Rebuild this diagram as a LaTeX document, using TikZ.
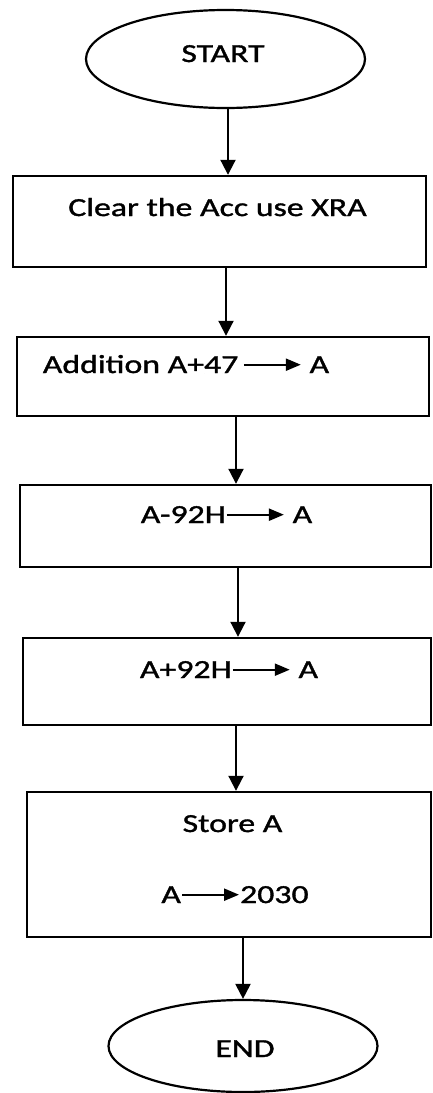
\documentclass[tikz,border=0pt]{standalone}
\usepackage{fontspec}
\setmainfont[FakeStretch=1.3,FakeBold=1.3]{Carlito}
\usetikzlibrary{arrows.meta,shapes.geometric}
\newcommand{\sarrow}{\tikz[x=1pt,y=1pt,baseline=-0.32em]\draw[line width=2.2pt,-{Triangle[length=15pt,width=12pt]}] (0,0) -- (57,0);}
\tikzset{
  box/.style={draw, line width=2.4pt, rectangle, inner sep=0pt},
  oval/.style={draw, line width=2.2pt, ellipse, inner sep=0pt},
  txt/.style={anchor=base, inner sep=0pt, font=\fontsize{26}{30}\selectfont},
  arr/.style={line width=2pt, -{Triangle[length=15pt,width=15pt]}}
}
\begin{document}
\begin{tikzpicture}[x=1pt,y=-1pt]
\useasboundingbox (0,0) rectangle (432,1093);
% shapes
\node[oval, minimum width=279pt, minimum height=98pt] (start) at (225.5,59) {};
\node[box, minimum width=413pt, minimum height=91pt] (b1) at (219.5,221.5) {};
\node[box, minimum width=412pt, minimum height=79pt] (b2) at (223,376.5) {};
\node[box, minimum width=411pt, minimum height=82pt] (b3) at (225.5,526) {};
\node[box, minimum width=408pt, minimum height=87pt] (b4) at (227,681.5) {};
\node[box, minimum width=404pt, minimum height=145pt] (b5) at (229,864.5) {};
\node[oval, minimum width=269pt, minimum height=92pt] (end) at (243,1046) {};
% texts
\node[txt] (tstart) at (223,62) {START};
\node[txt] (t1) at (217.5,216) {Clear the Acc use XRA};
\node[txt] (t2) at (186,373) {Addition A+47\,\sarrow\ A};
\node[txt] (t3) at (226.5,523) {A-92H\sarrow\ A};
\node[txt] (t4) at (229,678) {A+92H\sarrow\ A};
\node[txt] (t5a) at (232.5,832) {Store A};
\node[txt] (t5b) at (235,903) {A\sarrow2030};
\node[txt] (tend) at (245,1057) {END};
% connectors
\draw[arr] ([xshift=2.5pt]start.south) -- ([xshift=2.5pt]start.south |- b1.north);
\draw[arr] ([xshift=6.5pt]b1.south) -- ([xshift=6.5pt]b1.south |- b2.north);
\draw[arr] ([xshift=13pt]b2.south) -- ([xshift=13pt]b2.south |- b3.north);
\draw[arr] ([xshift=12.5pt]b3.south) -- ([xshift=12.5pt]b3.south |- b4.north);
\draw[arr] ([xshift=9pt]b4.south) -- ([xshift=9pt]b4.south |- b5.north);
\draw[arr] (b5.south -| end.north) -- (end.north);
\end{tikzpicture}
\end{document}
